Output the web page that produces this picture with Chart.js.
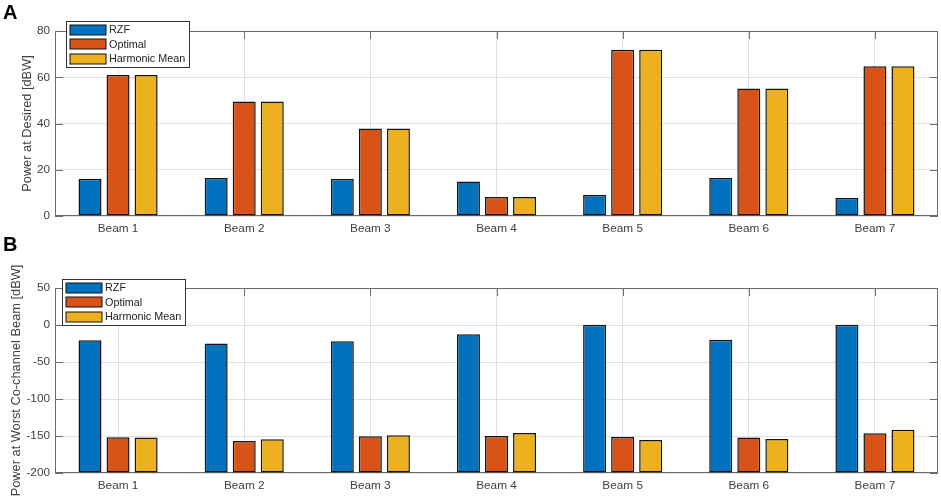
<!DOCTYPE html>
<html>
<head>
<meta charset="utf-8">
<title>Beam power comparison</title>
<script src="https://cdn.jsdelivr.net/npm/chart.js@4.4.0/dist/chart.umd.min.js"></script>
<style>
  body {
    margin: 0;
    background: #fff;
    width: 941px;
    height: 500px;
    position: relative;
    overflow: hidden;
    font-family: "Liberation Sans", Arial, sans-serif;
  }
  canvas { position: absolute; left: 0; }
  #chartA { top: 0; }
  #chartB { top: 250px; }
  .panel {
    position: absolute;
    left: 3px;
    font-weight: bold;
    font-size: 20px;
    color: #000;
  }
</style>
</head>
<body>
<canvas id="chartA" width="941" height="250"></canvas>
<canvas id="chartB" width="941" height="250"></canvas>
<div class="panel" style="top:1px">A</div>
<div class="panel" style="top:233px">B</div>

<script>
// Categories and series
const beams = ["Beam 1", "Beam 2", "Beam 3", "Beam 4", "Beam 5", "Beam 6", "Beam 7"];
const seriesNames = ["RZF", "Optimal", "Harmonic Mean"];

// Panel A: power at desired beam [dBW]
const desiredRZF = [16.1, 16.4, 16.0, 14.9, 9.1, 16.4, 7.8];
const desiredOptimal = [61.0, 49.5, 37.8, 8.2, 71.9, 55.1, 64.8];
const desiredHarmonic = [61.0, 49.5, 37.8, 8.2, 71.9, 55.1, 64.8];
const desiredTicks = [0, 20, 40, 60, 80];

// Panel B: power at worst co-channel beam [dBW]
const cochanRZF = [-20.5, -25.0, -22.0, -12.6, 0.5, -19.8, 0.5];
const cochanOptimal = [-151.8, -156.7, -150.4, -150.0, -151.3, -152.0, -146.4];
const cochanHarmonic = [-152.0, -154.5, -149.0, -146.0, -155.4, -154.0, -141.4];
const cochanTicks = [-200, -150, -100, -50, 0, 50];

// MATLAB default colour order
const colors = ["#0072BD", "#D95319", "#EDB120"];
const axisColor = "#6b6b6b";
const gridColor = "#e0e0e0";
const textColor = "#404040";
const fontFamily = '"Liberation Sans", Arial, sans-serif';

// Draws the MATLAB style box, inner tick marks and the boxed legend
const matlabAxes = {
  id: "matlabAxes",
  beforeDatasetsDraw(chart, args, opts) {
    const { ctx, chartArea: a, scales } = chart;
    const len = 8;
    ctx.save();
    ctx.strokeStyle = axisColor;
    ctx.lineWidth = 1;
    ctx.beginPath();
    scales.x.ticks.forEach((t, i) => {
      const px = Math.round(scales.x.getPixelForTick(i)) + 0.5;
      ctx.moveTo(px, a.top);
      ctx.lineTo(px, a.top + len);
      ctx.moveTo(px, a.bottom);
      ctx.lineTo(px, a.bottom - len);
    });
    scales.y.ticks.forEach((t, i) => {
      const py = Math.round(scales.y.getPixelForTick(i)) + 0.5;
      ctx.moveTo(a.left, py);
      ctx.lineTo(a.left + len, py);
      ctx.moveTo(a.right, py);
      ctx.lineTo(a.right - len, py);
    });
    ctx.stroke();
    ctx.strokeRect(Math.round(a.left) + 0.5, Math.round(a.top) + 0.5,
      Math.round(a.width) - 1, Math.round(a.height) - 1);
    ctx.restore();
  },
  afterDraw(chart, args, opts) {
    const { ctx, chartArea: a } = chart;
    const bx = Math.round(a.left + opts.dx) + 0.5;
    const by = Math.round(a.top + opts.dy) + 0.5;
    ctx.save();
    ctx.font = "10.8px " + fontFamily;
    const sets = chart.data.datasets;
    const textW = Math.max(...sets.map((d) => ctx.measureText(d.label).width));
    const w = Math.round(3.5 + 36 + 3 + textW + 4);
    const h = 46;
    ctx.fillStyle = "#fff";
    ctx.fillRect(bx, by, w, h);
    ctx.strokeStyle = "#333";
    ctx.lineWidth = 1;
    ctx.strokeRect(bx, by, w, h);
    sets.forEach((d, i) => {
      const cy = by + 8.5 + i * 14.4;
      ctx.fillStyle = d.backgroundColor;
      ctx.fillRect(bx + 3.5, Math.round(cy - 5), 36, 10);
      ctx.strokeStyle = "#111";
      ctx.strokeRect(bx + 3.5, Math.round(cy - 5), 36, 10);
      ctx.fillStyle = "#222";
      ctx.textBaseline = "middle";
      ctx.fillText(d.label, bx + 3.5 + 36 + 3, cy + 0.5);
    });
    ctx.restore();
  },
};

function buildChart(canvasId, values, ticks, yTitle, cfg) {
  const datasets = values.map((data, i) => ({
    label: seriesNames[i],
    data: data,
    base: ticks[0],
    backgroundColor: colors[i],
    borderColor: "#141414",
    borderWidth: 1.5,
    borderSkipped: false,
    barPercentage: 0.82,
    categoryPercentage: 0.667,
  }));

  return new Chart(document.getElementById(canvasId), {
    type: "bar",
    data: { labels: beams, datasets: datasets },
    plugins: [matlabAxes],
    options: {
      responsive: false,
      animation: false,
      layout: { padding: { top: cfg.top, right: 3, left: 0, bottom: 0 } },
      plugins: {
        legend: { display: false },
        tooltip: { enabled: false },
        matlabAxes: { dx: cfg.legendDx, dy: cfg.legendDy },
      },
      scales: {
        x: {
          offset: true,
          grid: { offset: false, color: gridColor, drawTicks: false },
          border: { display: false },
          ticks: {
            color: textColor,
            padding: 6,
            maxRotation: 0,
            font: { family: fontFamily, size: 11.8 },
          },
          afterFit(scale) {
            scale.height = cfg.xHeight;
          },
        },
        y: {
          min: ticks[0],
          max: ticks[ticks.length - 1],
          grid: { color: gridColor, drawTicks: false },
          border: { display: false },
          ticks: {
            color: textColor,
            padding: 5,
            font: { family: fontFamily, size: 11.8 },
          },
          afterBuildTicks(scale) {
            scale.ticks = ticks.map((v) => ({ value: v }));
          },
          title: {
            display: true,
            text: yTitle,
            color: textColor,
            font: { family: fontFamily, size: 12.8 },
            padding: { top: cfg.titlePad, bottom: 0 },
          },
          afterFit(scale) {
            scale.width = 55;
          },
        },
      },
    },
  });
}

buildChart("chartA", [desiredRZF, desiredOptimal, desiredHarmonic], desiredTicks,
  "Power at Desired [dBW]",
  { top: 31, xHeight: 34, titlePad: 19.5, legendDx: 10.7, legendDy: -10.3 });

buildChart("chartB", [cochanRZF, cochanOptimal, cochanHarmonic], cochanTicks,
  "Power at Worst Co-channel Beam [dBW]",
  { top: 38, xHeight: 27, titlePad: 8.8, legendDx: 6.7, legendDy: -8.7 });
</script>
</body>
</html>
